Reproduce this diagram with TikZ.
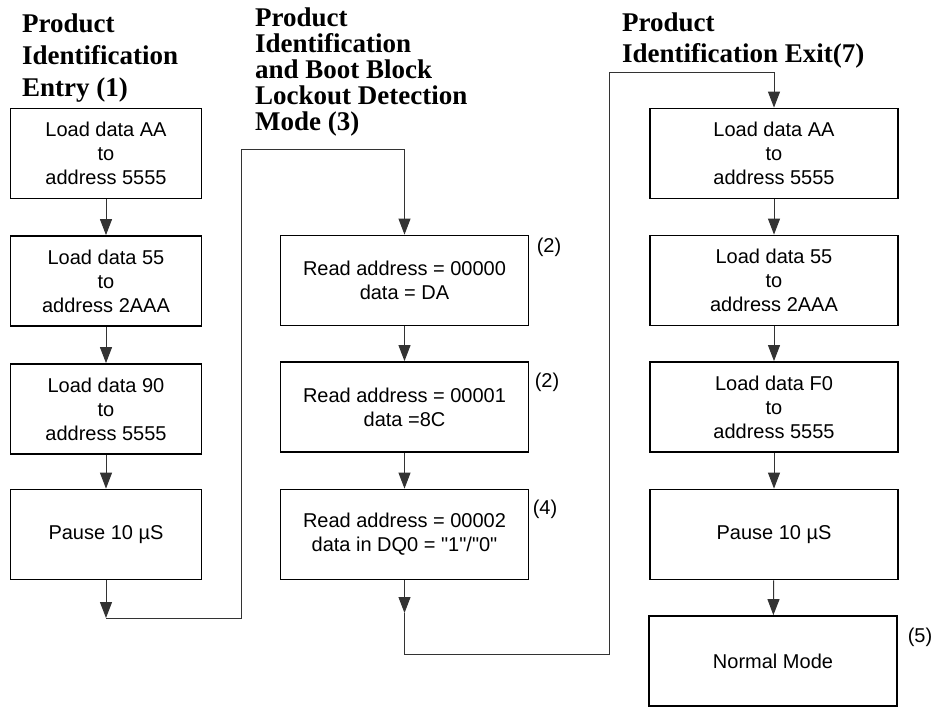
\documentclass[tikz,border=0pt]{standalone}
\usepackage{fontspec}
\setmainfont{Liberation Sans}[Ligatures=TeXOff]
\newfontfamily\headfont{Liberation Serif}
\usetikzlibrary{arrows.meta}

\tikzset{
  stepbox/.style={draw, line width=1.8pt, minimum height=90pt, inner sep=0pt,
    align=center, font=\fontsize{20}{24}\selectfont},
  leftbox/.style={stepbox, minimum width=191pt},
  wideboxr/.style={stepbox, minimum width=248pt},
  heading/.style={anchor=north west, inner sep=0pt, align=left},
  note/.style={inner sep=0pt, font=\fontsize{20}{24}\selectfont},
  flow/.style={line width=1pt, draw=black!80, -{Triangle[width=12pt,length=16pt]}},
  wire/.style={line width=1pt, draw=black!80}
}

\begin{document}
\begin{tikzpicture}[x=1pt,y=-1pt]
  \useasboundingbox (0,0) rectangle (934,707);

  % headings
  \node[heading, font=\headfont\bfseries\fontsize{27}{32}\selectfont] (head1) at (22,14)
    {Product\\Identification\\Entry (1)};
  \node[heading, font=\headfont\bfseries\fontsize{27}{26}\selectfont] (head3) at (255,8)
    {Product\\Identification\\and Boot Block\\Lockout Detection\\Mode (3)};
  \node[heading, font=\headfont\bfseries\fontsize{27}{31}\selectfont] (head7) at (622,13)
    {Product\\Identification Exit(7)};

  % entry sequence
  \node[leftbox] (entryA) at (106,153.5) {Load data AA\\to\\address 5555};
  \node[leftbox] (entryB) at (106,281) {Load data 55\\to\\address 2AAA};
  \node[leftbox] (entryC) at (106,409) {Load data 90\\to\\address 5555};
  \node[leftbox] (entryD) at (106,534.5) {Pause 10 µS};

  % read sequence
  \node[wideboxr] (readA) at (404.5,280.5) {Read address = 00000\\data = DA};
  \node[wideboxr] (readB) at (404.5,407) {Read address = 00001\\data =8C};
  \node[wideboxr] (readC) at (404.5,534.5) {Read address = 00002\\data in DQ0 = "1"/"0"};
  \node[note] (noteA) at (549,247) {(2)};
  \node[note] (noteB) at (547,382) {(2)};
  \node[note] (noteC) at (545,509) {(4)};

  % exit sequence
  \node[wideboxr] (exitA) at (774,153.5) {Load data AA\\to\\address 5555};
  \node[wideboxr] (exitB) at (774,280.5) {Load data 55\\to\\address 2AAA};
  \node[wideboxr] (exitC) at (774,407) {Load data F0\\to\\address 5555};
  \node[wideboxr] (exitD) at (774,534.5) {Pause 10 µS};
  \node[wideboxr] (exitE) at (773,661) {Normal Mode};
  \node[note] (noteD) at (920,637) {(5)};

  % turning points
  \coordinate (entryEnd) at (106,618);
  \coordinate (riseA) at (241,149);
  \coordinate (readEnd) at (404.5,613);
  \coordinate (dropB) at (609,654);
  \coordinate (riseB) at (609,72);

  \draw[flow] (entryA) -- (entryB);
  \draw[flow] (entryB) -- (entryC);
  \draw[flow] (entryC) -- (entryD);
  \draw[flow] (entryD) -- (entryEnd);
  \draw[flow] (entryEnd) -| (riseA) -| (readA.north);

  \draw[flow] (readA) -- (readB);
  \draw[flow] (readB) -- (readC);
  \draw[flow] (readC) -- (readEnd);
  \draw[wire] (readEnd) |- (dropB) -- (riseB);
  \draw[flow] (riseB) -| (exitA.north);

  \draw[flow] (exitA) -- (exitB);
  \draw[flow] (exitB) -- (exitC);
  \draw[flow] (exitC) -- (exitD);
  \draw[flow] (exitD) -- (exitE);
\end{tikzpicture}
\end{document}
